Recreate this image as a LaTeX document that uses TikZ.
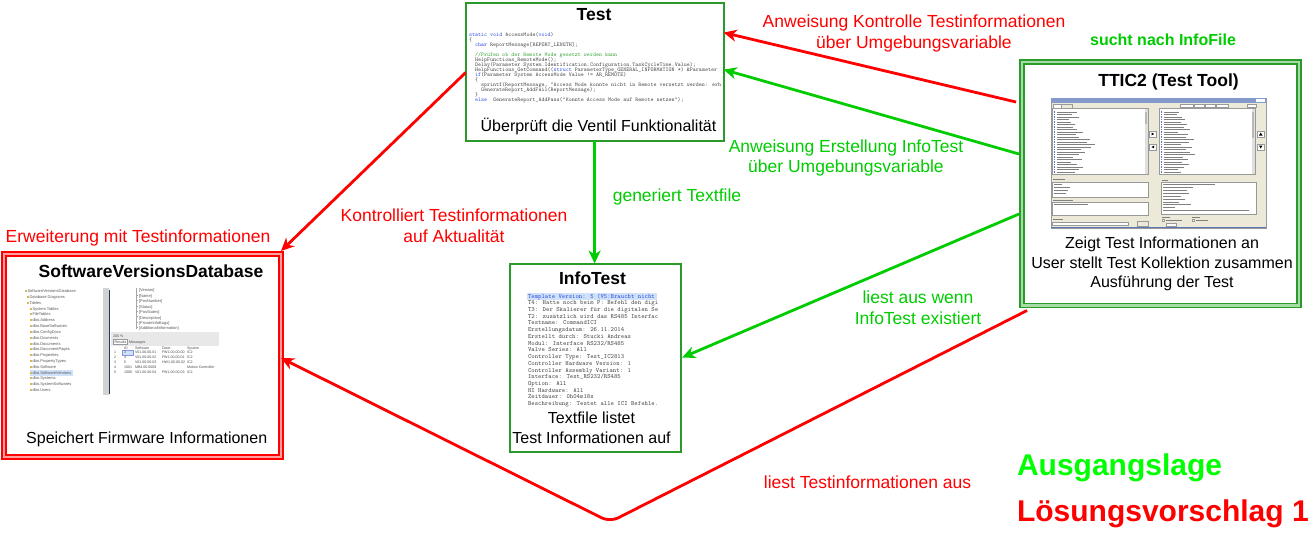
\documentclass[tikz,border=0pt]{standalone}
\usepackage{fontspec}
\setmainfont{Liberation Sans}
\usetikzlibrary{arrows.meta}

\definecolor{boxgreen}{HTML}{2A9A2A}
\definecolor{gapgreen}{HTML}{A6DCA6}
\definecolor{gapred}{HTML}{FF9F9F}
\definecolor{flowred}{HTML}{FF0000}
\definecolor{flowgreen}{HTML}{00CC00}
\definecolor{brightgreen}{HTML}{00FF00}
\definecolor{kwblue}{HTML}{2F4FE0}
\definecolor{cmtgreen}{HTML}{3AA53A}
\definecolor{codegray}{HTML}{4A4A4A}
\definecolor{winbg}{HTML}{ECE9D8}
\definecolor{selblue}{HTML}{CFE2FA}
\definecolor{lnblue}{HTML}{5A78B8}
\definecolor{navyline}{HTML}{1F3864}
\definecolor{iconyellow}{HTML}{D8B45A}

\newcommand\codekw[1]{\textcolor{kwblue}{#1}}
% fixed line pitch for the small listings
\newcommand\tightlines{\lineskiplimit=-20pt\relax}

% multi-line nodes sit on the baseline of their last line
\tikzset{
  every node/.style={inner sep=0pt,outer sep=0pt},
  greenbox/.style={draw=boxgreen,line width=2pt,fill=white,rectangle},
  greendbl/.style={draw=boxgreen,double=gapgreen,double distance=2.8pt,line width=1.5pt,fill=white,rectangle},
  reddbl/.style={draw=flowred,double=gapred,double distance=2.4pt,line width=1.4pt,fill=white,rectangle},
  flowline/.style={line width=2.8pt,-{Stealth[length=13pt,width=12pt,inset=4pt]}},
  redflow/.style={flowline,draw=flowred},
  greenflow/.style={flowline,draw=flowgreen},
  flowlbl/.style={anchor=base,align=center,font=\fontsize{17.5}{20.6}\selectfont},
  redlbl/.style={flowlbl,text=flowred},
  greenlbl/.style={flowlbl,text=flowgreen},
  boxtitle/.style={anchor=base,font=\bfseries\fontsize{17.5}{21}\selectfont},
  boxtext/.style={anchor=base,align=center,font=\fontsize{16}{19.3}\selectfont},
  codetext/.style={anchor=base west,align=left,text=codegray,
    font=\ttfamily\fontsize{5.7}{5}\selectfont\tightlines},
  listtext/.style={anchor=base west,align=left,text=codegray,
    font=\ttfamily\fontsize{6.4}{6.73}\selectfont\tightlines},
  treetext/.style={anchor=base west,text=black!65,font=\fontsize{4}{4}\selectfont},
  tabletext/.style={anchor=base west,text=black!70,font=\fontsize{3.6}{3.6}\selectfont},
  uiframe/.style={draw=gray!80,line width=0.35pt},
  uitext/.style={draw=codegray!70,line width=0.6pt}
}

\begin{document}
\begin{tikzpicture}[x=1pt,y=-1pt]
\useasboundingbox (0,0) rectangle (1314,533);
\fill[white] (0,0) rectangle (1314,533);

% ---------------- boxes ----------------
\node[greenbox,minimum width=258pt,minimum height=138pt] (test) at (594.6,71.6) {};
\node[greenbox,minimum width=171pt,minimum height=188pt] (info) at (595.7,357.5) {};
\node[greendbl,minimum width=277pt,minimum height=243.5pt] (ttic) at (1160.5,183.75) {};
\node[reddbl,minimum width=277pt,minimum height=203pt] (svd) at (142.5,355.5) {};

% ---------------- Test box ----------------
\node[boxtitle] (testtitle) at (594,20.7) {Test};
\begin{scope}
  \clip (467,29) rectangle (721.5,104);
  \node[codetext] (testcode) at (469,101.7) {%
\codekw{static} \codekw{void} AccessMode(\codekw{void})\\
\{\\
\hspace*{6pt}\codekw{char} ReportMessage[REPORT\_LENGTH];\\
\mbox{}\\
\hspace*{6pt}\textcolor{cmtgreen}{//Prüfen ob der Remote Mode gesetzt werden kann}\\
\hspace*{6pt}HelpFunctions\_RemoteMode();\\
\hspace*{6pt}Delay(Parameter System.Identification.Configuration.TaskCycleTime.Value);\\
\hspace*{6pt}HelpFunctions\_GetCommand((\codekw{struct} ParameterType\_GENERAL\_INFORMATION *) \&Parameter\\
\hspace*{6pt}\codekw{if}(Parameter System AccessMode Value != AR\_REMOTE)\\
\hspace*{6pt}\{\\
\hspace*{12pt}sprintf(ReportMessage, "Access Mode konnte nicht in Remote versetzt werden: erh\\
\hspace*{12pt}GenerateReport\_AddFail(ReportMessage);\\
\hspace*{6pt}\}\\
\hspace*{6pt}\codekw{else}\hspace*{6pt}GenerateReport\_AddPass("Konnte Access Mode auf Remote setzen");};
\end{scope}
\node[boxtext] (testdesc) at (598.5,131.7) {Überprüft die Ventil Funktionalität};

% ---------------- InfoTest box ----------------
\node[boxtitle] (infotitle) at (592.5,284.7) {InfoTest};
\begin{scope}
  \clip (526,292) rectangle (657,410);
  \fill[selblue] (527,293.3) rectangle (657,299.8);
  \node[listtext] (infolist) at (528,405.7) {%
\textcolor{kwblue}{Template Version: 5 (V5:Braucht nicht mehr}\\
T4: Hatte noch beim P: Befehl den digitalen\\
T3: Der Skalierer für die digitalen Sensoren\\
T2: zusätzlich wird das RS485 Interface\\
Testname: CommandICI\\
Erstellungsdatum: 26.11.2014\\
Erstellt durch: Stucki Andreas\\
Modul: Interface RS232/RS485\\
Valve Series: All\\
Controller Type: Test\_IC2813\\
Controller Hardware Version: 1\\
Controller Assembly Variant: 1\\
Interface: Test\_RS232/RS485\\
Option: All\\
HI Hardware: All\\
Zeitdauer: 0h04m18s\\
Beschreibung: Testet alle ICI Befehle.};
\end{scope}
\node[boxtext] (infodesc) at (591.5,443) {Textfile listet\\Test Informationen auf};

% ---------------- TTIC2 box ----------------
\node[boxtitle] (ttictitle) at (1168.5,86.7) {TTIC2 (Test Tool)};
% tool window
\draw[uiframe,fill=winbg] (1051,98) rectangle (1266,228);
\fill[lnblue!75] (1051,98) rectangle (1266,102.5);
\fill[white] (1256,99) rectangle (1264.5,101.6);
\draw[uiframe,fill=white] (1053,104) rectangle (1061,108);
\draw[uiframe,fill=winbg] (1061,104.5) rectangle (1072,108);
\foreach \a/\b in {1180/1193,1194/1204,1205/1215,1216/1228,1247/1256}
  \draw[uiframe,fill=white] (\a,104) rectangle (\b,107.5);
% list panels
\draw[uiframe,fill=white] (1052,108) rectangle (1148,174);
\draw[uiframe,fill=white] (1159,108) rectangle (1255,174);
\fill[gray!25] (1145,108.5) rectangle (1147.6,173.5);
\fill[gray!55] (1145.3,112) rectangle (1147.3,124);
\fill[gray!25] (1252,108.5) rectangle (1254.6,173.5);
\fill[gray!55] (1252.3,112) rectangle (1254.3,138);
\foreach \w [count=\i] in {20,15,22,12,14,18,16,20,26,19,22,33,30,38,34,24,28,22,16,25,14,20,26,22,18}{
  \fill[lnblue] (1053.5,{108.8+\i*2.5}) rectangle ++(1.4,1.4);
  \draw[uitext] (1056.5,{109.5+\i*2.5}) -- ++(\w,0);
}
\foreach \w [count=\i] in {15,13,18,21,17,23,20,26,14,24,22,30,25,17,28,22,26,31,19,24,18,25,20,14,17}{
  \fill[lnblue] (1160.5,{108.8+\i*2.5}) rectangle ++(1.4,1.4);
  \draw[uitext] (1163.5,{109.5+\i*2.5}) -- ++(\w,0);
}
% move buttons
\foreach \yy in {131,144}{
  \draw[uiframe,fill=white] (1149.5,\yy) rectangle (1156,{\yy+6});
  \draw[uiframe,fill=white] (1257.5,\yy) rectangle (1264,{\yy+6});
}
\fill[black] (1151.5,132.5) -- (1154.2,134) -- (1151.5,135.5) -- cycle;
\fill[black] (1154.2,145.5) -- (1151.5,147) -- (1154.2,148.5) -- cycle;
\fill[black] (1259,135.5) -- (1260.75,132.5) -- (1262.5,135.5) -- cycle;
\fill[black] (1259,145.5) -- (1260.75,148.5) -- (1262.5,145.5) -- cycle;
% lower panels
\draw[uitext] (1053,179.5) -- ++(12,0);
\draw[uiframe,fill=white] (1052,182) rectangle (1148,197);
\foreach \w [count=\i] in {8,16,14,12}
  \draw[uitext,line width=0.5pt] (1054,{181.5+\i*3}) -- ++(\w,0);
\draw[uitext] (1053,200) -- ++(20,0);
\draw[uiframe,fill=white] (1052,202) rectangle (1148,215);
\draw[uitext,line width=0.5pt] (1054,204.5) -- ++(34,0);
\draw[uitext] (1162,180) -- ++(6,0);
\draw[uiframe,fill=white] (1161,182) rectangle (1256,214);
\foreach \w [count=\i] in {52,30,24,26,18,22,16,28,12,86}
  \draw[uitext,line width=0.5pt] (1163,{181.5+\i*2.9}) -- ++(\w,0);
\draw[uitext,line width=0.5pt] (1053,219.5) -- ++(10,0);
\draw[uiframe,fill=white] (1052,222) rectangle (1128,225.5);
\draw[uiframe,fill=winbg] (1137,221) rectangle (1148,226);
\draw[uitext,line width=0.5pt] (1162,217) -- ++(8,0);
\draw[uitext,line width=0.5pt] (1192,217) -- ++(8,0);
\draw[uiframe,fill=white] (1162,219.5) rectangle ++(2,2);
\draw[uitext,line width=0.5pt] (1165.5,220.5) -- ++(16,0);
\draw[uiframe,fill=white] (1192,219.5) rectangle ++(2,2);
\draw[uitext,line width=0.5pt] (1195.5,220.5) -- ++(12,0);
\draw[uiframe,fill=white] (1166,223) rectangle (1176,226);
\fill[lnblue] (1051,226.6) rectangle (1266,228);
\node[boxtext] (tictext) at (1162,287.3) {Zeigt Test Informationen an\\User stellt Test Kollektion zusammen\\Ausführung der Test};

% ---------------- SoftwareVersionsDatabase box ----------------
\node[boxtitle] (svdtitle) at (151,277.3) {SoftwareVersionsDatabase};
% object explorer
\fill[selblue] (29.5,370.2) rectangle (73,375.6);
\foreach \t/\ind [count=\i] in {SoftwareVersionsDatabase/0,Database Diagrams/2,Tables/2,System Tables/5,FileTables/5,dbo.Address/5,dbo.BaseSoftwares/5,dbo.ConfigDocs/5,dbo.Dcuments/5,dbo.Documents/5,dbo.DocumentPages/5,dbo.Properties/5,dbo.PropertyTypes/5,dbo.Software/5,dbo.SoftwareVersions/5,dbo.Systems/5,dbo.SystemSoftwares/5,dbo.Users/5}{
  \fill[iconyellow] ({24.5+\ind},{284.2+\i*5.83}) rectangle ++(2,2);
  \node[treetext] (svdtree\i) at ({27.5+\ind},{286.7+\i*5.83}) {\t};
}
% query window
\fill[gray!35] (103,288) rectangle (108.5,395);
\draw[navyline,line width=1.2pt] (109.8,290) -- (109.8,394);
\draw[gray!70,line width=0.3pt] (136,288) -- (136,329);
\foreach \t [count=\i] in {Version,Name,PosNumber,Status,PosStates,Description,PrivateInfoBugs,AdditionalInformation}{
  \draw[gray!70,line width=0.3pt] (136,{289.3+\i*5.45}) -- ++(2,0);
  \node[treetext] (svdcol\i) at (139,{291.8+(\i-1)*5.45}) {[\t]};
}
\fill[gray!18] (111,332) rectangle (219,346);
\node[tabletext] (svdzoom) at (113,337) {200 \%};
\draw[uiframe,fill=white] (113,339.5) rectangle (127,344.5);
\node[tabletext] (svdres) at (114.5,343.3) {Results};
\node[tabletext] (svdmsg) at (129,343.3) {Messages};
\fill[selblue] (122,350.3) rectangle (133,355);
\draw[uiframe,draw=kwblue!60] (122,350.3) rectangle (133,355);
\node[tabletext] (svdh1) at (124,349) {ID};
\node[tabletext] (svdh2) at (135,349) {Software};
\node[tabletext] (svdh3) at (162,349) {Datei};
\node[tabletext] (svdh4) at (187,349) {System};
\foreach \n/\id/\sw/\fw/\sy [count=\i] in {1/3/V01.00.00.01/FW1.00.00.00/IC2,2/4/V01.00.00.02/FW1.00.00.01/IC2,3/5/V01.00.00.03/HW1.00.00.02/IC2,4/1001/MB4.00.0009/ /Motion Controller,5/1006/V01.00.00.04/FW1.00.00.03/IC2}{
  \node[tabletext] (svdrn\i) at (114,{348.8+\i*4.95}) {\n};
  \node[tabletext] (svdid\i) at (124,{348.8+\i*4.95}) {\id};
  \node[tabletext] (svdsw\i) at (135,{348.8+\i*4.95}) {\sw};
  \node[tabletext] (svdfw\i) at (162,{348.8+\i*4.95}) {\fw};
  \node[tabletext] (svdsy\i) at (187,{348.8+\i*4.95}) {\sy};
}
\node[boxtext] (svddesc) at (146.7,443) {Speichert Firmware Informationen};

% ---------------- labels ----------------
\node[redlbl] (lblcheck) at (914,48.5) {Anweisung Kontrolle Testinformationen\\über Umgebungsvariable};
\node[greenlbl,font=\bfseries\fontsize{16}{19}\selectfont] (lblsearch) at (1163,45) {sucht nach InfoFile};
\node[greenlbl] (lblcreate) at (846,172.7) {Anweisung Erstellung InfoTest\\über Umgebungsvariable};
\node[greenlbl] (lblgen) at (677,201.7) {generiert Textfile};
\node[redlbl] (lblverify) at (454,242.3) {Kontrolliert Testinformationen\\auf Aktualität};
\node[redlbl] (lblextend) at (138,242.7) {Erweiterung mit Testinformationen};
\node[greenlbl] (lblread) at (918,324) {liest aus wenn\\InfoTest existiert};
\node[redlbl] (lblreadinfo) at (867.5,488.3) {liest Testinformationen aus};
\node[anchor=base west,font=\bfseries\fontsize{30}{36}\selectfont,text=brightgreen] (status) at (1017,475) {Ausgangslage};
\node[anchor=base west,font=\bfseries\fontsize{30}{36}\selectfont,text=flowred] (proposal) at (1017,521.7) {Lösungsvorschlag 1};

% ---------------- connectors ----------------
\draw[redflow] ([xshift=-6pt,yshift=-40pt]ttic.north west) -- ([yshift=-30pt]test.north east);
\draw[greenflow] ([xshift=-3pt,yshift=-92pt]ttic.north west) -- ([yshift=-67pt]test.north east);
\draw[greenflow] (test.south) -- (test.south |- info.north);
\draw[redflow] ([yshift=-70pt]test.north west) -- ([yshift=3pt]svd.north east);
\draw[greenflow] ([xshift=-3pt,yshift=-152pt]ttic.north west) -- ([xshift=1pt,yshift=-94pt]info.north east);
\coordinate (dip) at (610,522);
\draw[redflow,rounded corners=9pt] ([xshift=5pt,yshift=-5pt]ttic.south west) -- (dip) -- ([yshift=-2.5pt]svd.east);
\end{tikzpicture}
\end{document}
